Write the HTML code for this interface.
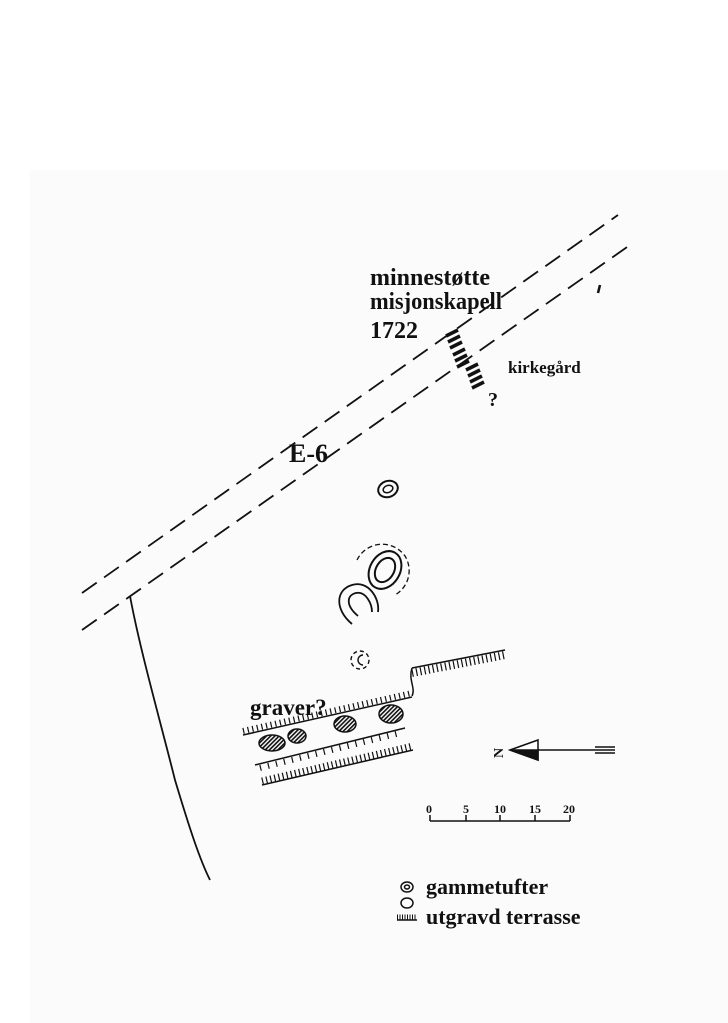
<!DOCTYPE html>
<html><head><meta charset="utf-8"><style>
html,body{margin:0;padding:0;background:#fff}
svg{display:block}
text{font-family:"Liberation Serif",serif;font-weight:bold;fill:#111}
</style></head><body>
<svg width="728" height="1023" viewBox="0 0 728 1023" xmlns="http://www.w3.org/2000/svg">
<rect x="0" y="0" width="728" height="1023" fill="#fff"/>
<rect x="30" y="170" width="698" height="853" fill="#fbfbfb"/>
<g stroke="#111" fill="none" stroke-width="1.8">
<path d="M82 593 L618 215" stroke-dasharray="18 9"/>
<path d="M82 630 L630 245" stroke-dasharray="18 9"/>
<path d="M130 596 C140 650 160 720 175 780 C190 830 200 860 210 880"/>
<path d="M600 285 L598 293" stroke-width="2.5"/>
</g>
<g stroke="#111" stroke-width="3.5">
<path d="M446 336 l12 -6 M448 342 l12 -6 M450 348 l12 -6"/>
<path d="M453 355 l12 -6 M455 361 l12 -6 M457 367 l12 -6"/>
<path d="M466 370 l12 -6 M468 376 l12 -6 M470 382 l12 -6 M472 388 l12 -6"/>
</g>
<text x="370" y="285" font-size="24">minnestøtte</text>
<text x="370" y="309" font-size="24" textLength="132" lengthAdjust="spacingAndGlyphs">misjonskapell</text>
<text x="370" y="338" font-size="24">1722</text>
<text x="508" y="373" font-size="17">kirkegård</text>
<text x="488" y="406" font-size="20">?</text>
<text x="289" y="462" font-size="26">E-6</text>
<g stroke="#111" fill="none" stroke-width="2">
<ellipse cx="388" cy="489" rx="10" ry="8" transform="rotate(-20 388 489)"/>
<ellipse cx="388" cy="489" rx="5" ry="3.5" transform="rotate(-20 388 489)" stroke-width="1.5"/>
<ellipse cx="385" cy="570" rx="15" ry="20" transform="rotate(30 385 570)"/>
<ellipse cx="385" cy="570" rx="9" ry="13" transform="rotate(30 385 570)"/>
<path d="M357 560 A28 28 0 0 1 405 556 A28 28 0 0 1 395 595" stroke-dasharray="5 3" stroke-width="1.3"/>
<path d="M352 624 C335 610 335 590 352 585 C368 580 380 598 378 612" stroke-width="1.8"/>
<path d="M358 616 C345 605 347 595 356 593 C366 591 372 604 372 612" stroke-width="1.8"/>
<circle cx="360" cy="660" r="9" stroke-dasharray="4 3" stroke-width="1.4"/>
<path d="M363 655 A5 5 0 1 0 363 665" stroke-width="1.4"/>
</g>
<g stroke="#111" fill="none" stroke-width="1.5">
<path d="M412 668 L505 650"/>
<path d="M412 673 L505 655" stroke-width="8" stroke-dasharray="1.2 3"/>
<path d="M412 668 C408 680 416 688 412 696"/>
<path d="M243 735 L412 697"/>
<path d="M243 731 L412 693" stroke-width="6" stroke-dasharray="1.2 3.5"/>
<path d="M255 765 L405 728"/>
<path d="M260 768 L400 733" stroke-width="6" stroke-dasharray="1.2 7"/>
<path d="M262 785 L413 750"/>
<path d="M262 781 L413 746" stroke-width="7" stroke-dasharray="1.2 3"/>
</g>
<defs><pattern id="h" width="3" height="3" patternUnits="userSpaceOnUse" patternTransform="rotate(45)"><rect width="1.6" height="3" fill="#111"/></pattern></defs>
<g stroke="#111" stroke-width="1.5" fill="url(#h)">
<ellipse cx="272" cy="743" rx="13" ry="8"/>
<ellipse cx="297" cy="736" rx="9" ry="7"/>
<ellipse cx="345" cy="724" rx="11" ry="8"/>
<ellipse cx="391" cy="714" rx="12" ry="9"/>
</g>
<text x="250" y="715" font-size="23">graver?</text>
<text x="491" y="756" font-size="14" transform="rotate(-90 498 751)">N</text>
<g stroke="#111" stroke-width="1.5">
<path d="M510 750 L538 740 L538 760 Z" fill="#fff"/>
<path d="M510 750 L538 750 L538 760 Z" fill="#111"/>
<path d="M538 750 L615 750"/>
<path d="M595 747 L615 747 M595 753 L615 753"/>
<path d="M430 821 L570 821 M430 815 L430 821 M466 815 L466 821 M500 815 L500 821 M535 815 L535 821 M570 815 L570 821"/>
</g>
<g style="font-family:'Liberation Sans',sans-serif">
<text x="426" y="813" font-size="12" font-weight="normal">0</text>
<text x="463" y="813" font-size="12" font-weight="normal">5</text>
<text x="494" y="813" font-size="12" font-weight="normal">10</text>
<text x="529" y="813" font-size="12" font-weight="normal">15</text>
<text x="563" y="813" font-size="12" font-weight="normal">20</text>
</g>
<g stroke="#111" fill="none" stroke-width="1.5">
<ellipse cx="407" cy="887" rx="6" ry="5"/>
<ellipse cx="407" cy="887" rx="2.5" ry="2"/>
<ellipse cx="407" cy="903" rx="6" ry="5"/>
<path d="M397 920 L417 920" />
<path d="M397 917 L417 917" stroke-width="5" stroke-dasharray="1 1.5"/>
</g>
<text x="426" y="894" font-size="22">gammetufter</text>
<text x="426" y="924" font-size="22">utgravd terrasse</text>
</svg>
</body></html>
